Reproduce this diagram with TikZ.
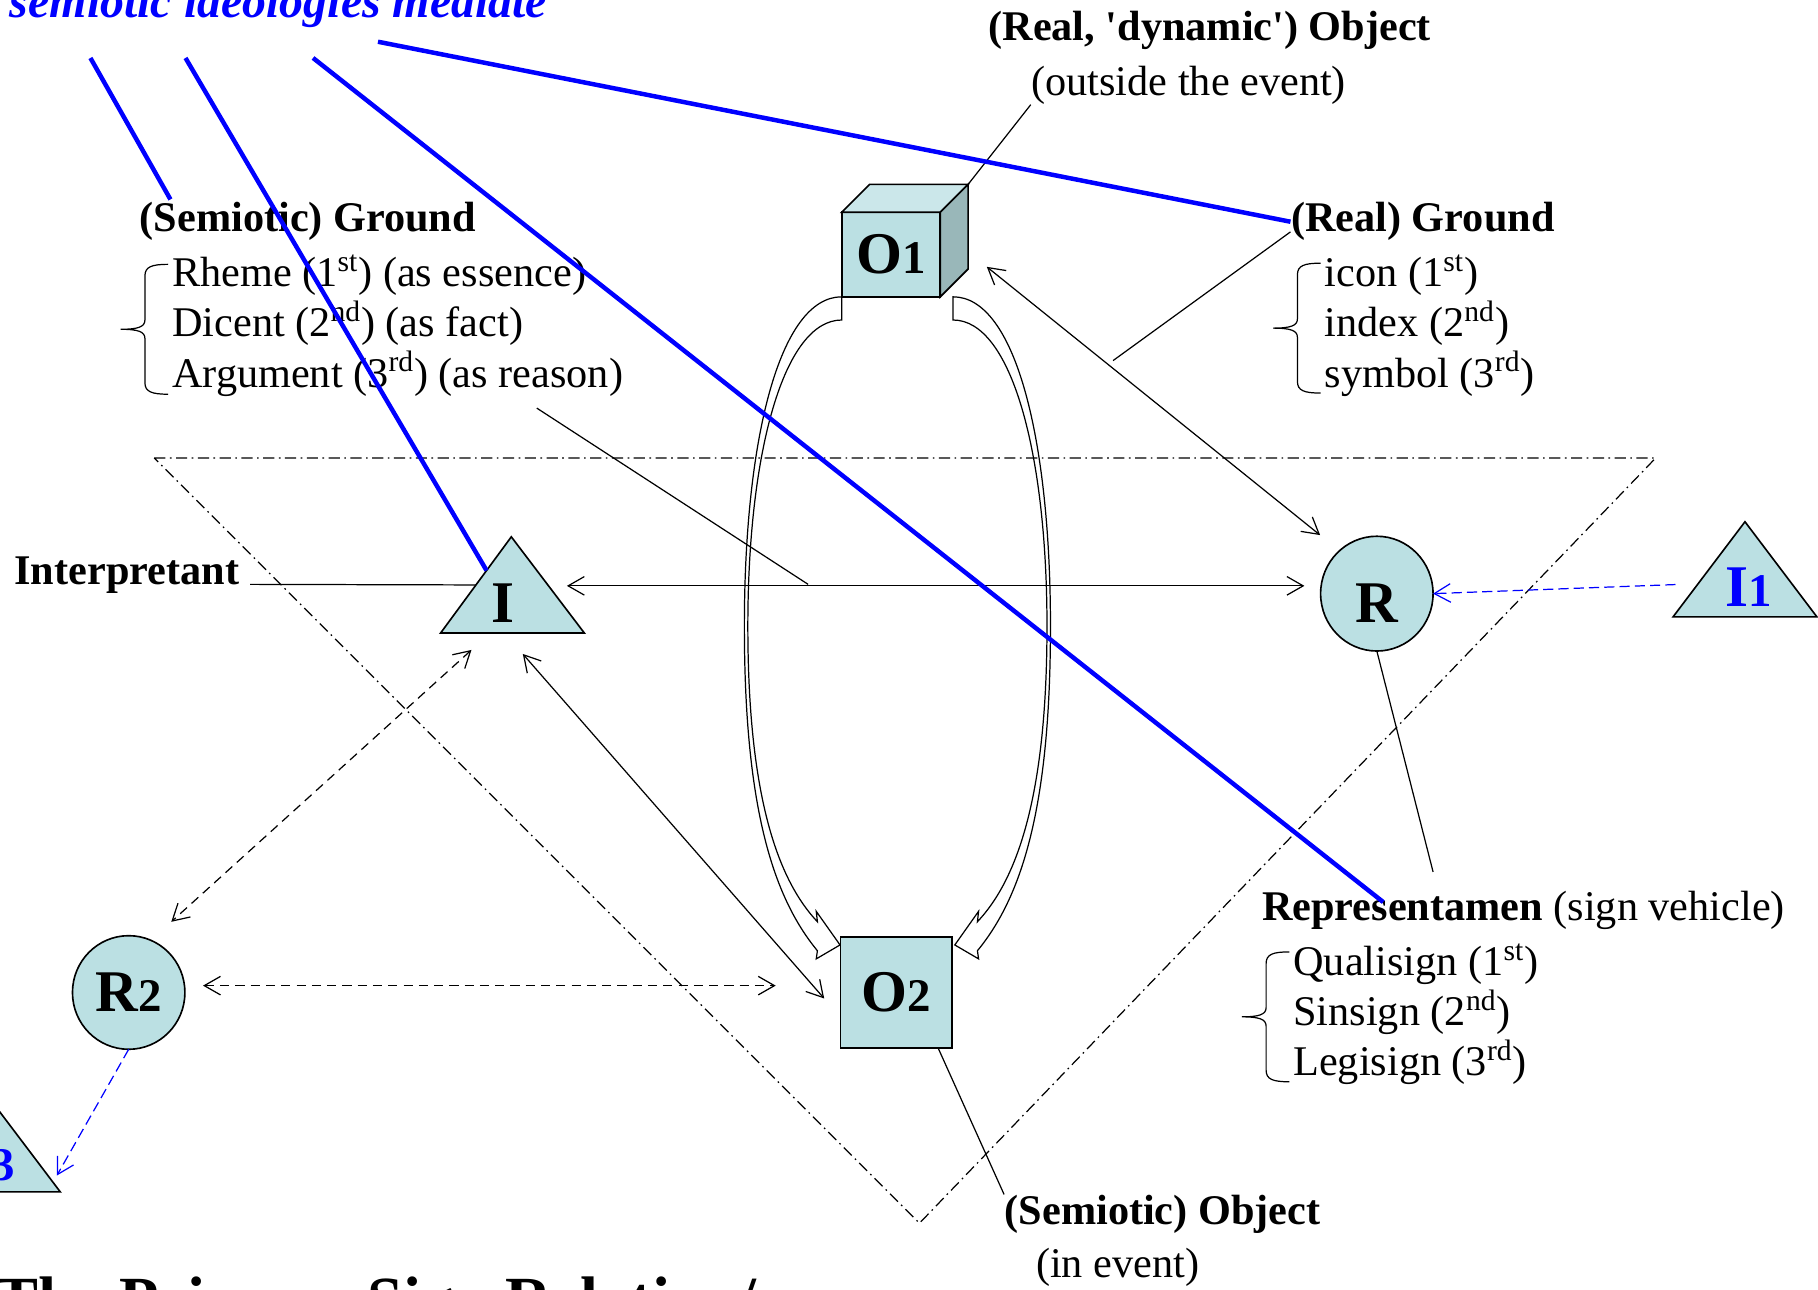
\documentclass[tikz,border=0pt]{standalone}
\usepackage{fontspec}
\setmainfont{Liberation Serif}
\usepackage{xcolor}
\usepackage{tikz}
\usetikzlibrary{arrows.meta,shapes.geometric,calc}

\definecolor{signfill}{RGB}{187,224,227}
\definecolor{topface}{RGB}{203,231,234}
\definecolor{sideface}{RGB}{153,183,185}

\begin{document}
\begin{tikzpicture}[x=0.02cm, y=-0.02cm, line width=0.6pt,
    >={Straight Barb[length=0.28cm,width=0.32cm]},
    txt/.style={inner sep=0, anchor=base west, font=\fontsize{20.75pt}{24.7pt}\selectfont},
    btxt/.style={txt, font=\fontsize{20.75pt}{24.7pt}\selectfont\bfseries},
    shp/.style={draw, fill=signfill, line width=0.8pt},
    sign/.style={shp, inner sep=0, outer sep=0, font=\fontsize{29pt}{34pt}\selectfont\bfseries},
    tri/.style={ellipse, inner sep=0, outer sep=0, minimum width=2.32cm, minimum height=1.84cm, font=\fontsize{29pt}{34pt}\selectfont\bfseries},
    dashdot/.style={dash pattern=on 5.5pt off 2.2pt on 0.8pt off 2.2pt},
    dsh/.style={dash pattern=on 4.5pt off 3pt},
    bdsh/.style={blue, dash pattern=on 5pt off 2.5pt},
    ideo/.style={blue, line width=2.2pt},
    lbr/.pic={\draw (41,-56) .. controls (27,-56) and (21,-54) .. (21,-46) -- (21,-8) .. controls (21,-2) and (15,0) .. (0,0) .. controls (15,0) and (21,2) .. (21,8) -- (21,46) .. controls (21,54) and (27,56) .. (41,56);}
]
    \useasboundingbox (0,0) rectangle (1568,1112);
    \clip (0,0) rectangle (1568,1112);

    % event (dash-dot triangle)
    \draw[dashdot] (133,395) -- (1428,395) -- (793,1055) -- cycle;

    % curved block arrows from O1 to O2
    \draw (726,256) .. controls (672,256) and (642,380) .. (642,540) .. controls (642,700) and (668,775) .. (705,820) -- (704,827) -- (724.5,815) -- (704,786) -- (705,795) .. controls (672,760) and (645,690) .. (645,540) .. controls (645,390) and (676,276) .. (726,276) -- cycle;
    \draw (822,256) .. controls (876,256) and (906,380) .. (906,540) .. controls (906,700) and (880,775) .. (843,820) -- (844,827) -- (823.5,815) -- (844,786) -- (843,795) .. controls (876,760) and (903,690) .. (903,540) .. controls (903,390) and (872,276) .. (822,276) -- cycle;

    % objects
    \node[sign, minimum width=1.7cm, minimum height=1.46cm] (O1) at (768.5,219.5) {O{\fontsize{23pt}{27pt}\selectfont 1}};
    \draw[shp, fill=topface] (O1.north west) -- ++(24,-24) -- ++(85,0) -- (O1.north east) -- cycle;
    \draw[shp, fill=sideface] (O1.north east) -- ++(24,-24) coordinate (O1-bk) -- ++(0,73) -- (O1.south east) -- cycle;
    \node[sign, minimum size=1.92cm] (O2) at (773,856) {O{\fontsize{23pt}{27pt}\selectfont 2}};

    % representamens
    \node[sign, ellipse, minimum width=1.94cm, minimum height=1.98cm, text height=1cm] (R) at (1187.5,512) {R};
    \node[sign, ellipse, minimum width=1.94cm, minimum height=1.96cm] (R2) at (111,856) {R{\fontsize{23pt}{27pt}\selectfont 2}};

    % interpretants
    \draw[shp] (441,463) coordinate (I-t) -- (504,546) -- (380,546) coordinate (I-l) -- cycle;
    \node[tri] (I) at (434,520) {I};
    \draw[shp] (1505,450) -- (1567,532) -- (1443,532) -- cycle;
    \node[tri, text=blue] (I1) at (1508,506) {I{\fontsize{23pt}{27pt}\selectfont 1}};
    \draw[shp] (-10,946) -- (52,1028) -- (-72,1028) -- cycle;
    \node[tri, text=blue] (I3) at (-7,1002) {I{\fontsize{23pt}{27pt}\selectfont 3}};

    % labels (lists are placed at the baseline of their last line)
    \node[txt, font=\fontsize{23.5pt}{28pt}\selectfont\bfseries\itshape, text=blue] (ideol) at (8,15) {semiotic ideologies mediate};
    \node[btxt] (dyn) at (852,35) {(Real, \textquotesingle dynamic\textquotesingle) Object};
    \node[txt] (outs) at (889,82) {(outside the event)};
    \node[btxt] (sground) at (120,200) {(Semiotic) Ground};
    \node[txt, align=left] (slist) at (148,334) {Rheme (1\textsuperscript{st}) (as essence)\\Dicent (2\textsuperscript{nd}) (as fact)\\Argument (3\textsuperscript{rd}) (as reason)};
    \pic at (104,284) {lbr};
    \node[btxt] (rground) at (1113,200) {(Real) Ground};
    \node[txt, align=left] (rlist) at (1142,334) {icon (1\textsuperscript{st})\\index (2\textsuperscript{nd})\\symbol (3\textsuperscript{rd})};
    \pic at (1098,283) {lbr};
    \node[btxt] (interp) at (12,504) {Interpretant};
    \node[txt] (repr) at (1088,794) {\textbf{Representamen} (sign vehicle)};
    \node[txt, align=left] (rplist) at (1115,928) {Qualisign (1\textsuperscript{st})\\Sinsign (2\textsuperscript{nd})\\Legisign (3\textsuperscript{rd})};
    \pic at (1071,877) {lbr};
    \node[btxt] (sobj) at (866,1056) {(Semiotic) Object};
    \node[txt] (inev) at (893,1102) {(in event)};
    \node[btxt, font=\fontsize{31.6pt}{36pt}\selectfont\bfseries] (caption) at (-4,1140) {The Primary Sign Relation/};

    % free ends
    \coordinate (rg-foot) at (960,311);
    \coordinate (sg-top) at (463,352);
    \coordinate (sg-foot) at (697,504);
    \coordinate (rp-top) at (1236,752);

    % relations
    \draw ([xshift=0.18cm]interp.base east) -- ($(I-l)!.5!(I-t)$);
    \draw[<->, shorten >=0.28cm] (I.15.4) -- (I.15.4 -| R.west);
    \draw[<->, shorten <=1.03cm, shorten >=0.43cm] (O1.27.2) -- (R.131.9);
    \draw[<->, shorten >=0.43cm] (I.-69.1) -- (O2.204.6);
    \draw[<->, dsh, shorten >=0.475cm] (I.236.6) -- (R2.67.8);
    \draw[<->, dsh, shorten <=0.32cm, shorten >=1.12cm] (R2.7) -- (R2.7 -| O2.west);
    \draw[->, bdsh, shorten <=0.1cm] (I1.178.9) -- (R.east);
    \draw[->, bdsh] (R2.south) -- (I3.-12.3);

    % label lines
    \draw (outs.south west) -- (O1-bk);
    \draw (rground.base west) -- (rg-foot);
    \draw (sg-top) -- (sg-foot);
    \draw (R.south) -- (rp-top);
    \draw (O2.-53.9) -- (sobj.north west);

    % ideology lines
    \coordinate (id-1) at (78,50);
    \coordinate (id-2) at (160,50);
    \coordinate (id-3) at (270,50);
    \coordinate (id-4) at (326,36);
    \coordinate (sg-mark) at (147,172);
    \coordinate (rp-mark) at (1193,778);
    \draw[ideo] (id-1) -- (sg-mark);
    \draw[ideo] (id-2) -- ($(I-l)!.65!(I-t)$);
    \draw[ideo] (id-3) -- (rp-mark);
    \draw[ideo] (id-4) -- (rground.west);
\end{tikzpicture}
\end{document}
